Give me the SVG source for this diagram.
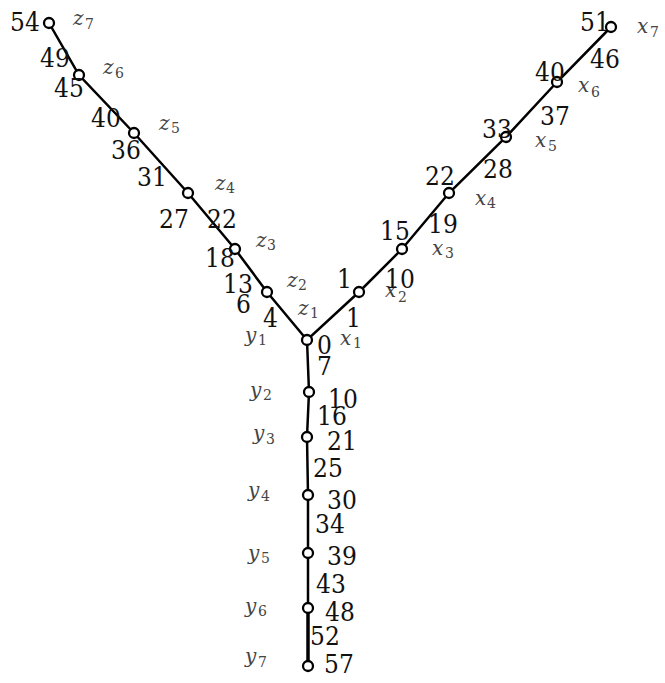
<svg xmlns="http://www.w3.org/2000/svg" width="665" height="683" viewBox="0 0 665 683">
<style>
.e{stroke:#000;stroke-width:2.5;fill:none}
.n{fill:#fff;stroke:#000;stroke-width:2.3}
.w{font-family:'DejaVu Serif','Liberation Serif',serif;font-stretch:condensed;font-size:26px;fill:#111}
.v{font-family:'DejaVu Serif','Liberation Serif',serif;font-style:italic;font-size:20px;fill:#444}
.s{font-style:normal;font-size:14px}
</style>
<rect width="665" height="683" fill="#fff"/>
<g id="connectors">
<polyline class="e" points="49,23 79,75 134,133 188,193 235,249 267,292 307,340 359,292 402,249 449,193 506,137 557,82 611,27"/>
<polyline class="e" points="307,340 309,392 307,437 308,495 308,553 308,608"/>
<line class="e" x1="308" y1="608" x2="308" y2="666" style="stroke-width:3.5"/>
</g>
<g id="center"><circle class="n" cx="307" cy="340" r="5"/><text class="w" x="317" y="354">0</text><text class="w" x="317" y="375">7</text></g>
<g id="z1"><text class="v" x="298" y="315">z<tspan class="s" x="310" y="318">1</tspan></text><text class="w" x="263" y="327">4</text></g>
<g id="z2"><circle class="n" cx="267" cy="292" r="5"/><text class="v" x="287" y="287">z<tspan class="s" x="298" y="290">2</tspan></text><text class="w" x="223" y="293">13</text><text class="w" x="236" y="313">6</text></g>
<g id="z3"><circle class="n" cx="235" cy="249" r="5"/><text class="v" x="256" y="247">z<tspan class="s" x="267" y="250">3</tspan></text><text class="w" x="205" y="267">18</text><text class="w" x="207" y="228">22</text></g>
<g id="z4"><circle class="n" cx="188" cy="193" r="5"/><text class="v" x="215" y="190">z<tspan class="s" x="226" y="193">4</tspan></text><text class="w" x="159" y="228">27</text><text class="w" x="137" y="186">31</text></g>
<g id="z5"><circle class="n" cx="134" cy="133" r="5"/><text class="v" x="159" y="130">z<tspan class="s" x="171" y="133">5</tspan></text><text class="w" x="111" y="159">36</text><text class="w" x="91" y="127">40</text></g>
<g id="z6"><circle class="n" cx="79" cy="75" r="5"/><text class="v" x="103" y="74">z<tspan class="s" x="115" y="78">6</tspan></text><text class="w" x="54" y="97">45</text><text class="w" x="40" y="67">49</text></g>
<g id="z7"><circle class="n" cx="49" cy="23" r="5"/><text class="v" x="73" y="25">z<tspan class="s" x="85" y="29">7</tspan></text><text class="w" x="10" y="31">54</text></g>
<g id="x1"><text class="v" x="340" y="345">x<tspan class="s" x="353" y="348">1</tspan></text><text class="w" x="346" y="327">1</text></g>
<g id="x2"><circle class="n" cx="359" cy="292" r="5"/><text class="v" x="385" y="297">x<tspan class="s" x="398" y="302">2</tspan></text><text class="w" x="337" y="288">1</text><text class="w" x="385" y="288">10</text></g>
<g id="x3"><circle class="n" cx="402" cy="249" r="5"/><text class="v" x="432" y="255">x<tspan class="s" x="445" y="258">3</tspan></text><text class="w" x="380" y="240">15</text><text class="w" x="428" y="233">19</text></g>
<g id="x4"><circle class="n" cx="449" cy="193" r="5"/><text class="v" x="475" y="205">x<tspan class="s" x="487" y="208">4</tspan></text><text class="w" x="425" y="185">22</text><text class="w" x="483" y="178">28</text></g>
<g id="x5"><circle class="n" cx="506" cy="137" r="5"/><text class="v" x="535" y="147">x<tspan class="s" x="548" y="151">5</tspan></text><text class="w" x="482" y="138">33</text><text class="w" x="540" y="125">37</text></g>
<g id="x6"><circle class="n" cx="557" cy="82" r="5"/><text class="v" x="578" y="92">x<tspan class="s" x="591" y="97">6</tspan></text><text class="w" x="535" y="81">40</text><text class="w" x="590" y="68">46</text></g>
<g id="x7"><circle class="n" cx="611" cy="27" r="5"/><text class="v" x="637" y="33">x<tspan class="s" x="650" y="37">7</tspan></text><text class="w" x="580" y="31">51</text></g>
<g id="y1"><text class="v" x="245" y="342">y<tspan class="s" x="258" y="345">1</tspan></text></g>
<g id="y2"><circle class="n" cx="309" cy="392" r="5"/><text class="v" x="250" y="397">y<tspan class="s" x="263" y="400">2</tspan></text><text class="w" x="328" y="408">10</text><text class="w" x="317" y="425">16</text></g>
<g id="y3"><circle class="n" cx="307" cy="437" r="5"/><text class="v" x="253" y="440">y<tspan class="s" x="266" y="444">3</tspan></text><text class="w" x="327" y="450">21</text><text class="w" x="313" y="477">25</text></g>
<g id="y4"><circle class="n" cx="308" cy="495" r="5"/><text class="v" x="248" y="497">y<tspan class="s" x="261" y="501">4</tspan></text><text class="w" x="327" y="509">30</text><text class="w" x="315" y="533">34</text></g>
<g id="y5"><circle class="n" cx="308" cy="553" r="5"/><text class="v" x="248" y="560">y<tspan class="s" x="261" y="563">5</tspan></text><text class="w" x="327" y="565">39</text><text class="w" x="316" y="593">43</text></g>
<g id="y6"><circle class="n" cx="308" cy="608" r="5"/><text class="v" x="245" y="613">y<tspan class="s" x="258" y="616">6</tspan></text><text class="w" x="325" y="621">48</text><text class="w" x="310" y="645">52</text></g>
<g id="y7"><circle class="n" cx="308" cy="666" r="5"/><text class="v" x="245" y="663">y<tspan class="s" x="258" y="667">7</tspan></text><text class="w" x="324" y="673">57</text></g>
</svg>
